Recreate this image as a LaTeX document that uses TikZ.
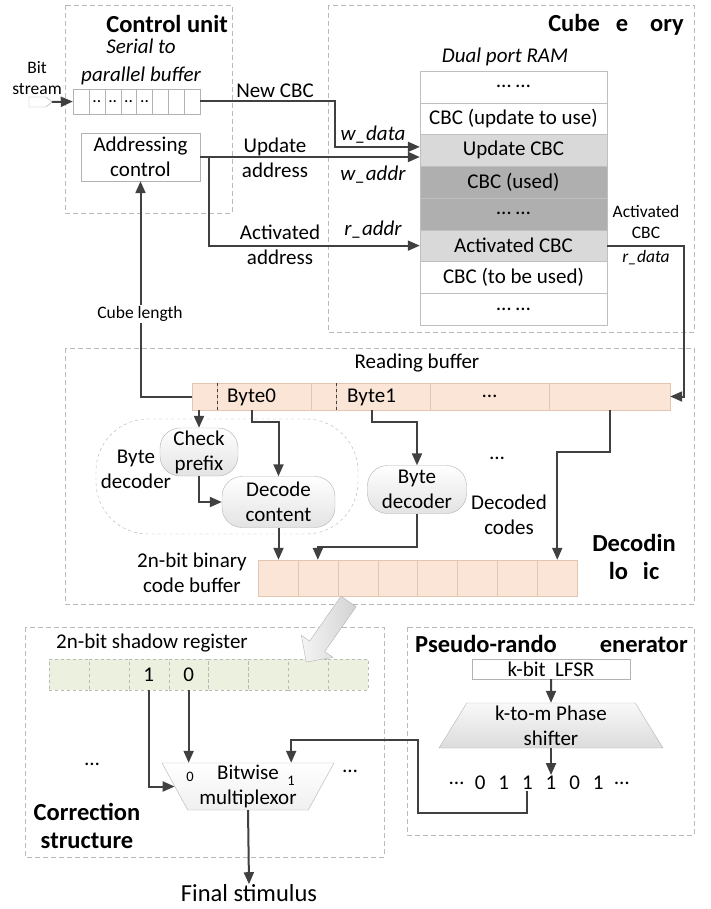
\documentclass[tikz,border=0pt]{standalone}
\usepackage{fontspec}
\setmainfont{Carlito}
\usepackage{tikz}
\usetikzlibrary{arrows.meta,calc,shapes.geometric,shapes.arrows}
\usepackage{xcolor}
\definecolor{peach}{HTML}{FBE5D6}
\definecolor{peachline}{HTML}{E2C6B2}
\definecolor{shadowgreen}{HTML}{EBF1DE}
\definecolor{ramlight}{HTML}{D9D9D9}
\definecolor{ramdark}{HTML}{AFAFAF}
\definecolor{wirecol}{HTML}{404040}
\colorlet{boxline}{gray!55}
\newcommand{\fmain}{\fontsize{21}{25}\selectfont}
\newcommand{\fsmall}{\fontsize{17.5}{21}\selectfont}
\newcommand{\fttl}{\bfseries\fontsize{24.5}{28}\selectfont}
\newcommand{\fmux}{\fontsize{14.5}{16}\selectfont}

\begin{document}
\begin{tikzpicture}[x=1pt, y=-1pt,
  region/.style={draw=boxline, dash pattern=on 5pt off 3pt, line width=0.8pt},
  ttl/.style={font=\fttl, align=center, inner sep=0pt},
  lbl/.style={font=\fmain, align=center, inner sep=0pt},
  slbl/.style={font=\fsmall, align=center, inner sep=0pt},
  wire/.style={draw=wirecol, line width=2pt, -{Triangle[length=12pt,width=10pt]}},
  ramrow/.style={draw=gray!50, minimum width=187pt, minimum height=31.75pt, inner sep=0pt, font=\fmain},
  spcell/.style={draw=gray!60, fill=white, minimum width=15.9pt, minimum height=25pt, inner sep=0pt, font=\fsmall},
  rbcell/.style={draw=peachline, fill=peach, minimum height=27pt, inner sep=0pt},
  cbcell/.style={draw=peachline, fill=peach, minimum width=39.9pt, minimum height=36pt, inner sep=0pt},
  srcell/.style={draw=gray!55, dashed, fill=shadowgreen, minimum width=39.9pt, minimum height=31pt, inner sep=0pt, font=\fmain},
  pill/.style={draw=gray!60, rounded corners=20pt, top color=white, bottom color=gray!22, font=\fmain, align=center, inner sep=0pt},
]
  \useasboundingbox (0,0) rectangle (711,909);

  \draw[region] (65,5) rectangle (232,213);
  \draw[region] (328,5) rectangle (694,332);
  \draw[region] (65,348) rectangle (694,604);
  \draw[region] (25,627) rectangle (384,857);
  \draw[region] (407,627) rectangle (694,835);

  \node[ttl, anchor=east] (cuTitle) at (228,24) {Control unit};
  \node[ttl, anchor=east] (cmTitle) at (684,25) {Cube\hspace{16pt}e\hspace{22pt}ory};
  \node[ttl] (dlTitle) at (634,557) {Decodin\\lo\hspace{15pt}ic};
  \node[ttl] (csTitle) at (87,826) {Correction\\structure};
  \node[ttl, anchor=east] (prTitle) at (688,644) {Pseudo-rando\hspace{43pt}enerator};

  \node[font=\itshape\fontsize{21}{28}\selectfont, align=center, inner sep=0pt] (spLabel) at (141,62) {Serial to\\parallel buffer};
  \node[slbl] (bitLabel) at (37,78.5) {Bit\\stream};
  \foreach \i/\txt in {1/, 2/.., 3/.., 4/.., 5/.., 6/, 7/, 8/}
    \node[spcell] (sp\i) at ({73+15.9*(\i-0.5)}, 101.5) {\txt};
  \draw[draw=gray!70, fill=white] (29,97) -- (46,97) -- (52,102) -- (46,107) -- (29,107) -- cycle;
  \coordinate (bitin) at (52,102);
  \draw[wire] (bitin) -- (sp1.west);
  \node[lbl, draw=gray!60, minimum width=119pt, minimum height=48pt] (addr) at (140.5,157) {Addressing\\control};

  \node[font=\itshape\fmain, inner sep=0pt] (ramLabel) at (505,57) {Dual port RAM};
  \foreach \i/\txt/\col in {1/… …/white, 2/CBC (update to use)/white, 3/Update CBC/ramlight, 4/CBC (used)/ramdark, 5/… …/ramdark, 6/Activated CBC/ramlight, 7/CBC (to be used)/white, 8/… …/white}
    \node[ramrow, fill=\col] (ram\i) at (513.5, {71+31.75*(\i-0.5)}) {\txt};

  \draw[wire] (sp8.east) -- ++(135,0) |- ([yshift=3.5pt]ram3.west);
  \draw[wire] (addr.east) -- (addr.east -| ram3.west);
  \draw[wire] ([xshift=9pt]addr.east) |- (ram6.west);
  \node[lbl] (newcbc) at (275,91) {New CBC};
  \node[lbl] (updaddr) at (275,158) {Update\\address};
  \node[lbl] (actaddr) at (280,245) {Activated\\address};
  \node[font=\itshape\fmain, inner sep=0pt] (wdata) at (373,135) {w\_data};
  \node[font=\itshape\fmain, inner sep=0pt] (waddr) at (373,175) {w\_addr};
  \node[font=\itshape\fmain, inner sep=0pt] (raddr) at (373,230) {r\_addr};
  \node[slbl] (actcbc) at (646,221.5) {Activated\\CBC};
  \node[font=\itshape\fsmall, inner sep=0pt] (rdata) at (646,258) {r\_data};

  \node[lbl] (rbLabel) at (417,363) {Reading buffer};
  \foreach \nm/\cx/\w in {rbA/204.5/25, rbB/264/94, rbC/323.5/25, rbD/383/94, rbE/489.5/119, rbF/609.5/121}
    \node[rbcell, minimum width=\w pt] (\nm) at (\cx, 396.5) {};
  \draw[wirecol, dashed, thin] (rbB.north west) -- (rbB.south west);
  \draw[wirecol, dashed, thin] (rbD.north west) -- (rbD.south west);
  \node[lbl, anchor=west] (byte0) at (227,397) {Byte0};
  \node[lbl, anchor=west] (byte1) at (347,397) {Byte1};
  \node[lbl] (rbDots) at (rbE) {…};
  \draw[wire] (ram6.east) -- ++(77,0) |- (rbF.east);

  \node[draw=gray!60, dashed, thin, rounded corners=52pt, minimum width=262pt, minimum height=115pt] (bdGroup) at (227,476.5) {};
  \node[lbl] (bdLabel) at (136,469) {Byte\\decoder};
  \node[pill, minimum width=78pt, minimum height=48pt] (chk) at (199,452) {Check\\prefix};
  \node[pill, minimum width=113pt, minimum height=51pt] (dec) at (278.5,502) {Decode\\content};
  \node[pill, minimum width=99pt, minimum height=48pt] (bdec) at (417,489.5) {Byte\\decoder};
  \node[lbl] (decDots) at (497,458) {…};
  \node[lbl] (decCodes) at (509,515) {Decoded\\codes};

  \node[lbl] (cbLabel) at (192,572.5) {2n-bit binary\\code buffer};
  \foreach \i in {1,...,8}
    \node[cbcell] (cb\i) at ({258+39.9*(\i-0.5)}, 578) {};

  \draw[wire] (rbA.west) -| (addr.south);
  \node[slbl, fill=white, inner sep=1pt] (cubeLen) at (140,314) {Cube length};
  \draw[wire] (chk.north |- rbA.south) -- (chk.north);
  \draw[wire] (byte0.south |- rbB.south) -- ++(0,12) -| (dec.north);
  \draw[wire] (chk.south) |- (dec.west);
  \draw[wire] (byte1.south |- rbD.south) -- ++(0,12) -| (bdec.north);
  \draw[wire] (dec.south) -- (dec.south |- cb1.north);
  \draw[wire] (bdec.south) -- ++(0,33) -| (cb2.north);
  \draw[wire] (rbF.south) -- ++(0,42) -| (cb8.north);

  \node[lbl] (srLabel) at (152,643) {2n-bit shadow register};
  \foreach \i/\txt in {1/, 2/, 3/1, 4/0, 5/, 6/, 7/, 8/}
    \node[srcell] (sr\i) at ({49+39.9*(\i-0.5)}, 674.5) {\txt};

  \node[trapezium, trapezium left angle=121, trapezium right angle=121, trapezium stretches body, draw=gray!60, top color=white, bottom color=gray!12, minimum width=172pt, minimum height=47pt, inner sep=0pt, font=\fmain, align=center] (mux) at (248,786.5) {Bitwise\\multiplexor};
  \node[font=\fmux, inner sep=0pt] (mux0) at (190,777) {0};
  \node[font=\fmux, inner sep=0pt] (mux1) at (291,781) {1};
  \node[lbl] (csDotsL) at (92,764) {…};
  \node[lbl] (csDotsR) at (350,771) {…};
  \node[font=\fontsize{24.5}{28}\selectfont, inner sep=0pt] (stim) at (249,893) {Final stimulus};

  \node[lbl, draw=gray!60, fill=white, minimum width=158pt, minimum height=20pt] (lfsr) at (551,669) {k-bit\ \ LFSR};
  \node[trapezium, trapezium left angle=55, trapezium right angle=55, trapezium stretches body, draw=gray!60, top color=gray!5, bottom color=gray!28, minimum width=224pt, minimum height=45pt, inner sep=0pt, font=\fmain, align=center] (psh) at (551,725.5) {k-to-m Phase\\shifter};
  \foreach \i/\txt in {0/…, 1/0, 2/1, 3/1, 4/1, 5/0, 6/1, 7/…}
    \node[lbl, inner sep=1pt] (q\i) at ({456.6+23.6*\i}, 783) {\txt};

  \draw[wire] (lfsr.south) -- (psh.north);
  \draw[wire] (psh.south) -- (psh.south |- q4.north);
  \coordinate (muxin) at ($(mux.north)!0.5!(mux.top right corner)$);
  \draw[wire] (q3.south) -- ++(0,22) -| ++(-109,-73) -| (muxin);
  \draw[wire] (sr3.south) |- (mux.west);
  \draw[wire] (sr4.south) -- (sr4.south |- mux.north);
  \draw[wire] (mux.south) -- (stim.north);

  \node[single arrow, draw=gray!60, left color=gray!8, right color=gray!35, minimum height=74pt, inner sep=9pt, single arrow head extend=10pt, rotate=235] (bigArrow) at (330,628) {};
\end{tikzpicture}
\end{document}
